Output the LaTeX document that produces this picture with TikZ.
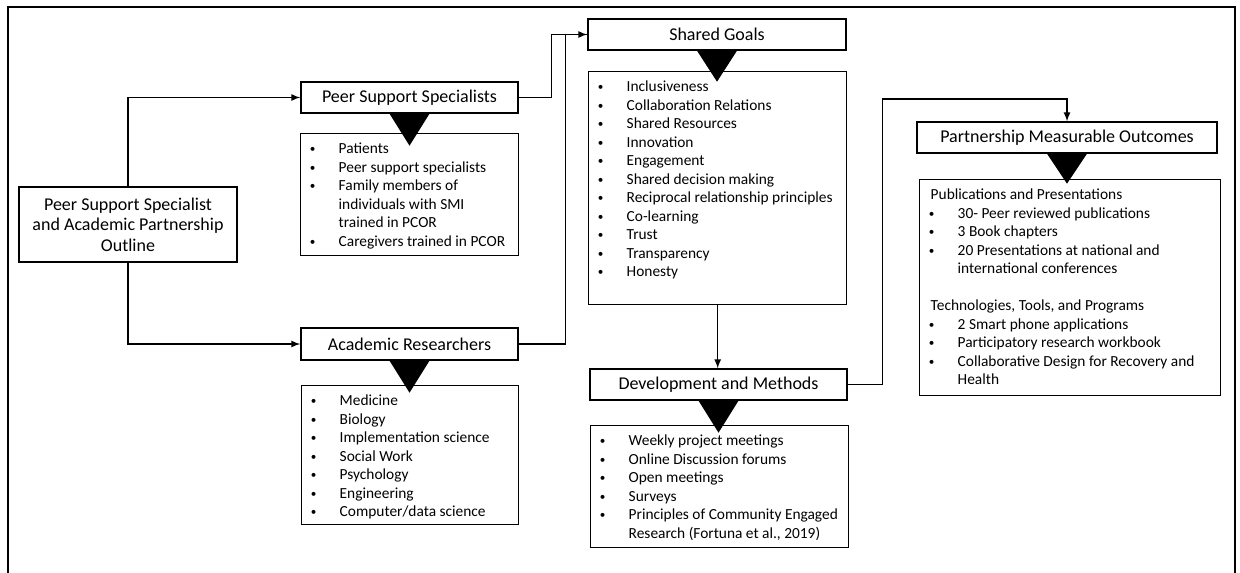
\documentclass[tikz,border=0pt]{standalone}
\usepackage{fontspec}
\setmainfont{Carlito}

% list helpers
\newcommand{\listfont}{\fontsize{7.7}{9.25}\selectfont\lineskiplimit=-100pt\raggedright}
\newcommand{\itemlist}[3]{\parbox[t][#2][t]{#1}{\listfont #3}}
\newcommand{\dotmark}{\raisebox{0.5pt}{\fontsize{5.6}{5}\selectfont\textbullet}}
\newcommand{\bitem}[1]{\noindent\hangindent=19pt\hangafter=1\makebox[19pt][l]{\rule{0pt}{10pt}\hspace{4.6pt}\dotmark}#1\par}
\newcommand{\listhead}[1]{\noindent\rule{0pt}{10pt}\hspace*{5.5pt}#1\par}

\begin{document}
\begin{tikzpicture}[x=0.5pt,y=-0.5pt,>=latex,
  hdr/.style={draw,line width=0.7pt,minimum height=15.5pt,inner sep=0pt,font=\fontsize{9}{10.25}\selectfont},
  listbox/.style={draw,line width=0.7pt,anchor=north west,inner sep=0pt},
  link/.style={line width=0.55pt}]

\useasboundingbox (0,0) rectangle (1240,572);

% outer frame
\draw[line width=0.8pt] (8,600) -- (8,7) -- (1235,7) -- (1235,600);

% outline node
\node[hdr,minimum width=109pt,minimum height=37.5pt,align=center] (outline) at (128,224.5) {Peer Support Specialist\\and Academic Partnership\\Outline};

% peer support specialists node
\node[hdr,minimum width=108.5pt] (pss) at (409.5,97.5) {Peer Support Specialists};
\node[listbox] (pss list) at (300,133) {\itemlist{109pt}{61pt}{%
\bitem{Patients}
\bitem{Peer support specialists}
\bitem{Family members of\newline individuals with SMI\newline trained in PCOR}
\bitem{Caregivers trained in PCOR}}};

% academic researchers node
\node[hdr,minimum width=108.5pt,minimum height=16pt] (ar) at (409.5,344) {Academic Researchers};
\node[listbox] (ar list) at (301,385) {\itemlist{108.5pt}{69.5pt}{%
\bitem{Medicine}
\bitem{Biology}
\bitem{Implementation science}
\bitem{Social Work}
\bitem{Psychology}
\bitem{Engineering}
\bitem{Computer/data science}}};

% shared goals node
\node[hdr,minimum width=129pt] (goals) at (717,34.5) {Shared Goals};
\node[listbox] (goals list) at (588,71) {\itemlist{129pt}{116.5pt}{%
\bitem{Inclusiveness}
\bitem{Collaboration Relations}
\bitem{Shared Resources}
\bitem{Innovation}
\bitem{Engagement}
\bitem{Shared decision making}
\bitem{Reciprocal relationship principles}
\bitem{Co-learning}
\bitem{Trust}
\bitem{Transparency}
\bitem{Honesty}}};

% development and methods node
\node[hdr,minimum width=128.5pt] (dev) at (718.5,384.5) {Development and Methods};
\node[listbox] (dev list) at (590,425) {\itemlist{129pt}{61pt}{%
\bitem{Weekly project meetings}
\bitem{Online Discussion forums}
\bitem{Open meetings}
\bitem{Surveys}
\bitem{Principles of Community Engaged\newline Research (Fortuna et al., 2019)}}};

% partnership outcomes node
\node[hdr,minimum width=150pt] (outcomes) at (1067,137.5) {Partnership Measurable Outcomes};
\node[listbox] (outcomes list) at (919,179) {\itemlist{150.5pt}{108pt}{%
\listhead{Publications and Presentations}
\bitem{30- Peer reviewed publications}
\bitem{3 Book chapters}
\bitem{20 Presentations at national and\newline international conferences}
\vspace{9.25pt}
\listhead{Technologies, Tools, and Programs}
\bitem{2 Smart phone applications}
\bitem{Participatory research workbook}
\bitem{Collaborative Design for Recovery and\newline Health}}};

% pointers under the headers
\fill ([xshift=-10pt]pss.south) -- ++(40,0) -- ++(-20,32) -- cycle;
\fill ([xshift=-10pt]ar.south) -- ++(40,0) -- ++(-20,32) -- cycle;
\fill ([xshift=-10pt]goals.south) -- ++(40,0) -- ++(-20,31) -- cycle;
\fill ([xshift=-10pt]dev.south) -- ++(40,0) -- ++(-20,32) -- cycle;
\fill ([xshift=-10pt]outcomes.south) -- ++(40,0) -- ++(-20,30) -- cycle;

% connectors
\draw[link,->] (outline.north) |- (pss.west);
\draw[link,->] (outline.south) |- (ar.west);
\draw[link,->] (pss.east) -- ++(33,0) |- (goals.west);
\draw[link] (ar.east) -- ++(47,0) |- (goals.west);
\draw[link,->] (goals list.south) -- (goals list.south |- dev.north);
\coordinate (outcomes in) at (1067,99);
\draw[link,->] (dev.east) -- ++(35,0) |- (outcomes in) -- (outcomes.north);

\end{tikzpicture}
\end{document}
